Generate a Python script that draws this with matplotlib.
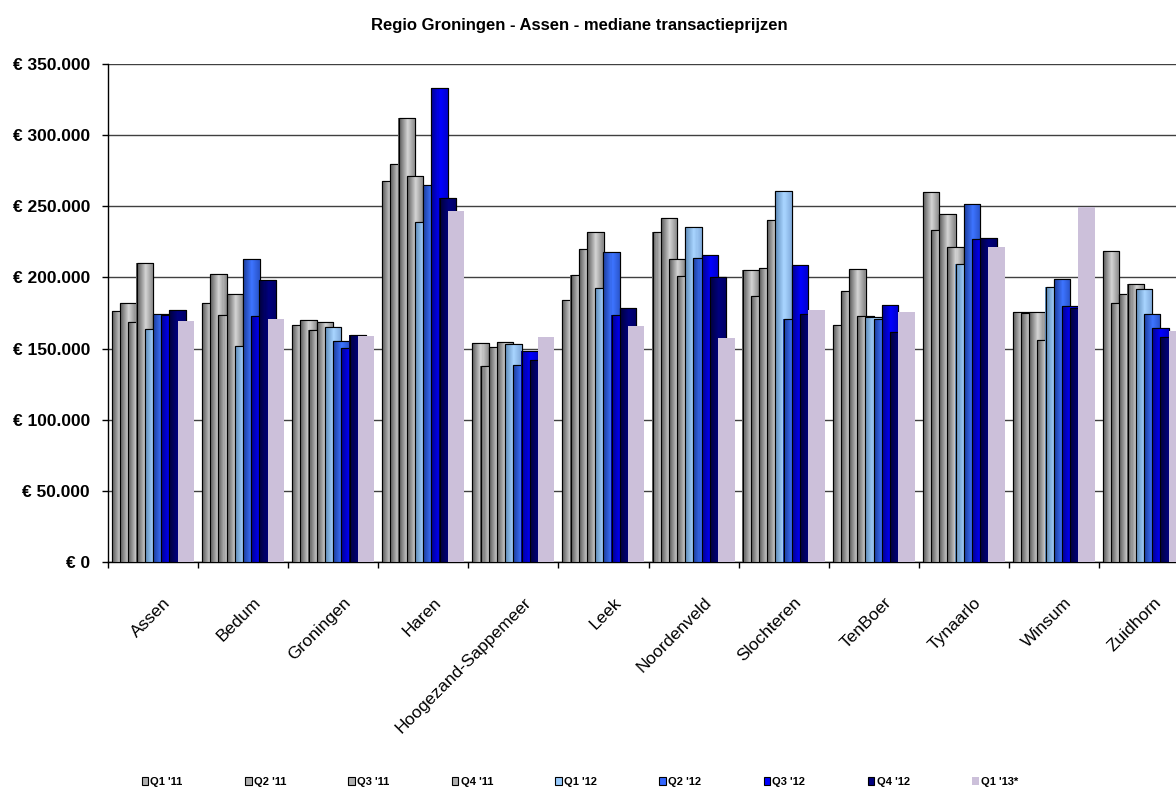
import matplotlib.pyplot as plt
import numpy as np
from matplotlib.colors import LinearSegmentedColormap
from matplotlib.transforms import ScaledTranslation

plt.rcParams["font.family"] = ["Liberation Sans", "DejaVu Sans"]

gemeenten = ["Assen", "Bedum", "Groningen", "Haren", "Hoogezand-Sappemeer", "Leek",
             "Noordenveld", "Slochteren", "TenBoer", "Tynaarlo", "Winsum", "Zuidhorn"]
kwartalen = ["Q1 '11", "Q2 '11", "Q3 '11", "Q4 '11", "Q1 '12", "Q2 '12", "Q3 '12", "Q4 '12", "Q1 '13*"]

# mediane transactieprijzen per kwartaal, in euro
q1_11 = [176700, 182000, 166600, 268000, 153900, 183900, 232200, 205000, 166600, 260300, 176000, 218800]
q2_11 = [182000, 202400, 169900, 279800, 137800, 201700, 241600, 186700, 190300, 233100, 175300, 182300]
q3_11 = [168900, 173600, 162800, 311900, 150900, 219800, 212700, 206700, 206000, 244600, 176000, 188400]
q4_11 = [210400, 188400, 168900, 271100, 154900, 232200, 201000, 240200, 172900, 221600, 155800, 195400]
q1_12 = [163500, 151800, 165200, 239000, 153500, 192600, 235200, 261000, 172400, 209500, 193300, 191700]
q2_12 = [174300, 212700, 155600, 265000, 138500, 218100, 213400, 170600, 170600, 251600, 198700, 174600]
q3_12 = [173600, 172900, 150200, 333200, 148100, 173600, 216000, 208500, 180600, 226800, 179700, 164500]
q4_12 = [176900, 198400, 159300, 255600, 142000, 178500, 200300, 174600, 161900, 227700, 178500, 158400]
q1_13 = [169400, 170800, 158600, 246500, 157900, 166100, 157700, 177100, 175500, 221600, 249500, 162400]

reeksen = [q1_11, q2_11, q3_11, q4_11, q1_12, q2_12, q3_12, q4_12, q1_13]

# kleurverloop van links naar rechts over de staaf
grijs = ["#555555", "#d4d4d4", "#8a8a8a"]
kleuren = [
    grijs, grijs, grijs, grijs,
    ["#5a87b5", "#a8d4ff", "#80aadb"],
    ["#1a3a99", "#3d74ff", "#2a55cc"],
    ["#00008c", "#0000ff", "#0000cc"],
    ["#00003a", "#00007e", "#000066"],
    None,
]
basis = ["#b0b0b0"] * 4 + ["#99ccff", "#3366ff", "#0000ff", "#000080", "#ccc0da"]

fig = plt.figure(figsize=(11.76, 7.89), dpi=100)
ax = fig.add_axes([108 / 1176, 227 / 789, 1081 / 1176, 498 / 789])

x = np.arange(len(gemeenten)) + 0.5
stap = 0.091
breedte = 0.183
n_strook = 16

handles = []
for j, (vals, naam) in enumerate(zip(reeksen, kwartalen)):
    pos = x + (j - 4) * stap
    z = 3 + j
    if kleuren[j] is None:
        bars = ax.bar(pos, vals, breedte, color=basis[j], edgecolor="none", zorder=z, label=naam)
        handles.append(bars)
        continue
    bars = ax.bar(pos, vals, breedte, color=basis[j], edgecolor="black", linewidth=0.8,
                  zorder=z, label=naam)
    handles.append(bars)
    cmap = LinearSegmentedColormap.from_list("g%d" % j, list(zip([0, 0.55, 1], kleuren[j])))
    sw = breedte / n_strook
    for k in range(n_strook):
        t = (k + 0.5) / n_strook
        ax.bar(pos - breedte / 2 + (k + 0.5) * sw, vals, sw * 1.3, color=cmap(t),
               linewidth=0, zorder=z + 0.1)
    ax.bar(pos, vals, breedte, fill=False, edgecolor="black", linewidth=0.8, zorder=z + 0.2)

ax.set_xlim(0, len(gemeenten))
ax.set_ylim(0, 350000)

yt = np.arange(0, 350001, 50000)
ax.set_yticks(yt)
ax.set_yticklabels(["€ 0" if t == 0 else "€ {:,.0f}".format(t).replace(",", ".") for t in yt],
                   fontsize=12.5, fontweight="bold")
ax.yaxis.grid(True, color="#404040", linewidth=1.0)
ax.set_axisbelow(True)

ax.set_xticks(np.arange(0, len(gemeenten) + 1))
ax.set_xticklabels([])
ax.set_xticks(x, minor=True)
ax.set_xticklabels(gemeenten, minor=True, rotation=45, ha="right", va="top",
                   rotation_mode="anchor", fontsize=12.5)
ax.tick_params(axis="x", which="minor", length=0, pad=8)
ax.tick_params(axis="both", which="major", direction="out", length=4, width=1, color="black")
ax.tick_params(axis="y", pad=9)
verschuiving = ScaledTranslation(0.10, -0.22, fig.dpi_scale_trans)
for lbl in ax.get_xticklabels(minor=True):
    lbl.set_transform(lbl.get_transform() + verschuiving)

for s in ["top", "right"]:
    ax.spines[s].set_visible(False)
for s in ["left", "bottom"]:
    ax.spines[s].set_color("black")
    ax.spines[s].set_linewidth(1.0)

fig.text(0.493, 0.968, "Regio Groningen - Assen - mediane transactieprijzen",
         ha="center", va="center", fontsize=12, fontweight="bold")

fig.legend(handles, kwartalen, loc="center", bbox_to_anchor=(0.493, 0.009), ncol=9,
           frameon=False, prop={"size": 8, "weight": "bold"}, handlelength=0.6,
           handleheight=0.6, handletextpad=0.2, columnspacing=5.6)

fig.savefig("out.png", dpi=100)
